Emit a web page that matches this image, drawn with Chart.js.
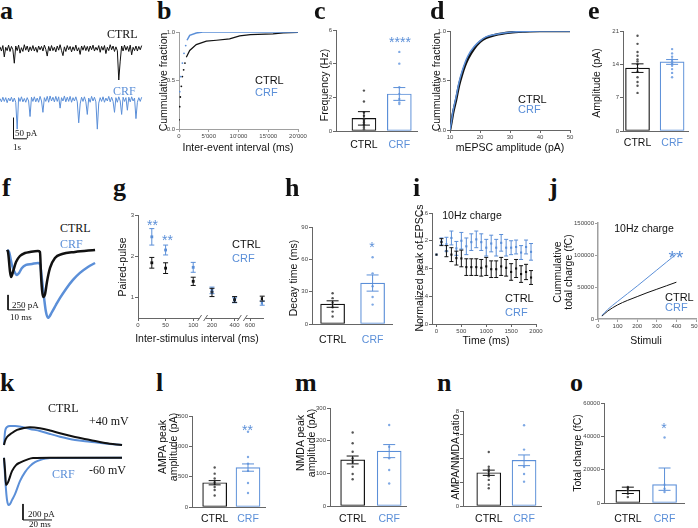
<!DOCTYPE html>
<html>
<head>
<meta charset="utf-8">
<title>CRF synaptic figure</title>
<script src="https://cdn.jsdelivr.net/npm/chart.js@4.4.1/dist/chart.umd.min.js"></script>
<style>
  html, body { margin: 0; padding: 0; overflow: hidden; background: #fff; }
  body { position: relative; width: 698px; height: 528px; }
  canvas { position: absolute; }
  .t { position: absolute; white-space: nowrap; color: #111; }
  .pl { font: bold 26px/1 "Liberation Serif", serif; }
  .sf { font: 12px/1 "Liberation Serif", serif; }
  .sb { font: 9px/1 "Liberation Serif", serif; }
  .lb { font: 11px/1 "Liberation Sans", Arial, sans-serif; }
  .ti { font: 10.5px/1 "Liberation Sans", Arial, sans-serif; }
  .st { font: 14px/1 "Liberation Sans", Arial, sans-serif; }
  .big { font-size: 19px; }
  .two { line-height: 11px; text-align: center; }
  .blue { color: #5b8fd8; }
</style>
</head>
<body>
<script>
const INK = '#111111';
const BLUE = '#5b8fd8';
const BLUE_DOT = '#7ea8e4';
const GREY_DOT = '#555555';
const AXIS = '#666666';
const AXIS_LIGHT = '#a0a0a0';
const TICK = '#444444';
const SANS = '"Liberation Sans", Arial, sans-serif';

// ---------- data ----------
const groups = ['CTRL', 'CRF'];

// a: spontaneous traces (pA), one sample every aDt seconds
const aDt = 0.106;
const aCtrl = [4,-6,7,-20,3,-5,8,-7,5,-3,
  -35,6,-5,8,-11,2,-7,9,-4,6,
  -8,4,-5,7,-6,3,-9,6,-3,5,
  -6,8,-2,-18,5,-6,7,-5,3,-8,
  6,-4,9,-5,-17,4,-7,7,-3,5,
  -8,4,-5,8,-6,2,-14,6,-4,7,
  -5,5,-7,6,-3,8,-6,3,-4,7,
  -9,5,-4,7,-12,3,-5,9,-3,6,
  -7,4,-5,-75,-30,6,-6,8,-4,5,
  -7,8,-15,3,-5,6,-6,5,-3,7];
const aCrf = [3,-5,6,-4,5,-7,4,-3,6,-5,
  4,-6,-70,5,-4,7,-5,3,-6,5,
  -3,-40,6,-4,7,-5,4,-6,8,-3,
  -30,5,-4,8,-6,9,-3,6,-5,8,
  -4,7,-20,5,-3,9,-5,6,-4,8,
  -6,5,-3,7,-5,-55,-10,6,-4,7,
  -5,-35,4,-6,8,-3,6,-5,-70,-8,
  5,-4,7,-6,4,-3,8,-5,6,-4,
  -30,5,-6,7,-3,-35,6,-4,5,-25,
  6,-5,7,-3,4,-45,-6,5,-4,6];

// b: cumulative fraction of inter-event intervals [ms, fraction]
const bCtrlDots = [[0,0.095],[110,0.23],[220,0.33],[390,0.44],[560,0.54],[780,0.61],[1000,0.68]];
const bCtrlLine = [[1230,0.74],[1800,0.81],[2900,0.87],[4600,0.905],[6300,0.915],[8500,0.93],[10200,0.96],[12000,0.972],[15800,0.98],[17500,0.99],[20000,0.995]];
const bCrfDots = [[120,0.385],[290,0.54],[570,0.68],[840,0.78],[1130,0.86]];
const bCrfLine = [[1350,0.915],[1800,0.966],[2900,0.99],[4000,1.0],[20000,1.0]];

// c: frequency (Hz)
const cMeans = [0.75, 2.2];
const cErr = [0.4, 0.38];
const cCtrlPts = [2.4, 1.75, 1.1, 0.9, 0.7, 0.6, 0.5, 0.4, 0.3, 0.2, 0.1];
const cCrfPts = [4.7, 4.0, 2.6, 2.2, 1.9, 1.7, 1.6];

// d: cumulative fraction of mEPSC amplitude
const dAmp = [10, 10.5, 11, 12, 13, 14, 15, 16, 18, 20, 22, 25, 30, 35, 40, 50];
const dCtrl = [0, 0.08, 0.17, 0.3, 0.45, 0.56, 0.65, 0.72, 0.82, 0.89, 0.93, 0.96, 0.985, 0.995, 1.0, 1.0];
const dCrf = [0, 0.09, 0.19, 0.33, 0.48, 0.59, 0.68, 0.75, 0.84, 0.9, 0.94, 0.965, 0.988, 0.996, 1.0, 1.0];

// e: amplitude (pA)
const eMeans = [13.2, 14.5];
const eErr = [0.9, 0.5];
const eCtrlPts = [20, 18.3, 16.6, 15.8, 15, 14.6, 14, 13.2, 12.5, 11.3, 10.3, 9.5, 8];
const eCrfPts = [17.2, 16.3, 15.6, 15, 14.6, 14.2, 13.7, 13, 12.2, 11.3];

// f: paired-pulse traces [ms] / [pA]
const fCtrlT = [0, 0.6, 1.8, 2.4, 3.5, 5.3, 7.6, 10.6, 13.5, 18.2, 19.4, 20.0, 20.6, 21.2, 22.4, 23.5, 25.3, 28.2, 32.4, 40.0, 51.8];
const fCtrl = [0, -33, -367, -450, -367, -200, -100, -50, -33, -17, -33, -417, -667, -783, -733, -533, -300, -133, -67, -33, 0];
const fCrfT = [0, 1.2, 2.9, 4.7, 5.9, 7.1, 8.8, 11.2, 14.7, 18.2, 19.4, 20.6, 21.8, 22.9, 24.1, 26.5, 28.8, 31.2, 34.7, 38.8, 42.9, 47.6, 51.8];
const fCrf = [0, -33, -250, -383, -417, -383, -300, -250, -233, -217, -233, -500, -800, -1033, -1133, -1033, -917, -800, -650, -500, -383, -283, -217];

// g: paired-pulse ratio vs inter-stimulus interval (ms)
const gIsi = [25, 50, 100, 200, 400, 800];
const gCtrl = [1.84, 1.71, 1.39, 1.12, 0.95, 0.97];
const gCtrlErr = [0.13, 0.13, 0.1, 0.1, 0.07, 0.06];
const gCrf = [2.47, 2.15, 1.73, 1.17, 0.93, 0.86];
const gCrfErr = [0.2, 0.12, 0.12, 0.08, 0.06, 0.05];
const gTicks = [0, 50, 100, 200, 400, 600];

// h: decay time (ms)
const hMeans = [18.5, 38];
const hErr = [3, 7.5];
const hCtrlPts = [28.5, 24, 20, 18, 15.5, 11.5, 7];
const hCrfPts = [62, 47, 35, 25, 18];

// i: normalized EPSC peak during 10 Hz train
const iTime = [0, 100, 200, 300, 400, 500, 600, 700, 800, 900, 1000, 1100, 1200, 1300, 1400, 1500, 1600, 1700, 1800, 1900];
const iCtrl = [1.0, 1.18, 1.05, 1.0, 0.95, 0.945, 0.82, 0.82, 0.82, 0.81, 0.83, 0.79, 0.79, 0.83, 0.81, 0.75, 0.80, 0.72, 0.75, 0.67];
const iCtrlErr = [0, 0.05, 0.08, 0.1, 0.1, 0.12, 0.12, 0.12, 0.12, 0.12, 0.13, 0.12, 0.12, 0.13, 0.12, 0.12, 0.13, 0.12, 0.11, 0.1];
const iCrf = [1.0, 1.19, 1.15, 1.24, 1.09, 1.20, 1.12, 1.18, 1.22, 1.18, 1.10, 1.16, 1.10, 1.17, 1.10, 1.10, 1.11, 1.03, 1.11, 1.04];
const iCrfErr = [0, 0.05, 0.1, 0.1, 0.1, 0.12, 0.12, 0.12, 0.12, 0.12, 0.12, 0.12, 0.12, 0.12, 0.12, 0.1, 0.1, 0.1, 0.1, 0.12];

// j: cumulative total charge (fC)
const jStim = [20, 50, 100, 150, 200, 250, 300, 350, 400];
const jCtrl = [4500, 12500, 22000, 29000, 35000, 41000, 46500, 52000, 57500];
const jCrf = [5500, 15000, 27500, 39500, 51500, 64000, 76500, 89000, 101500];

// k: AMPA / NMDA traces [ms] / [pA]
const kCtrl40T = [0, 0.7, 2.1, 5.5, 9.0, 13.8, 17.9, 24.8, 31.7, 38.6, 49.0, 59.3, 69.7, 81.4];
const kCtrl40 = [0, 50, 100, 150, 188, 213, 221, 209, 181, 146, 100, 63, 25, 0];
const kCrf40T = [0, 0.7, 2.1, 4.1, 7.6, 12.4, 17.9, 24.8, 31.7, 38.6, 49.0, 59.3, 69.7, 81.4];
const kCrf40 = [0, 163, 225, 238, 238, 225, 200, 175, 138, 104, 63, 41, 19, 0];
const kCtrl60T = [0, 0.7, 1.4, 2.8, 5.5, 8.3, 11.0, 15.9, 20.0, 31.7, 81.4];
const kCtrl60 = [0, -154, -341, -304, -166, -91, -60, -23, -4, 0, 0];
const kCrf60T = [0, 0.7, 1.4, 2.1, 3.1, 4.1, 5.5, 7.6, 11.0, 14.5, 17.9, 21.4, 24.8, 31.7, 81.4];
const kCrf60 = [0, -216, -404, -529, -591, -579, -529, -454, -291, -179, -104, -54, -29, -4, 0];

// l-o: AMPA, NMDA, ratio, total charge
const lMeans = [400, 650], lErr = [35, 60];
const lCtrlPts = [650, 550, 470, 410, 380, 330, 280, 190];
const lCrfPts = [1240, 825, 715, 595, 395, 230];
const mMeans = [141, 168], mErr = [12, 20];
const mCtrlPts = [225, 192, 166, 146, 135, 120, 98, 82];
const mCrfPts = [248, 181, 146, 110, 69];
const nMeans = [2.8, 3.85], nErr = [0.22, 0.45];
const nCtrlPts = [4.55, 3.3, 3.1, 2.9, 2.7, 2.5, 2.2, 1.8, 1.5];
const nCrfPts = [6.8, 4.75, 3.3, 2.7, 2.05];
const oMeans = [7600, 11000], oErr = [1900, [7600, 21000]];
const oCtrlPts = [9600, 8500, 7600, 5600, 3600];
const oCrfPts = [39300, 11000, 8600, 6600];

// ---------- helpers ----------
const errorBars = {
  id: 'errorBars',
  afterDatasetsDraw(chart) {
    const ctx = chart.ctx, ys = chart.scales.y;
    chart.data.datasets.forEach((ds, i) => {
      if (!ds.errors) return;
      chart.getDatasetMeta(i).data.forEach((el, j) => {
        const e = ds.errors[j];
        if (!e) return;
        const v = ds.data[j].y;
        const lo = Array.isArray(e) ? e[0] : v - e;
        const hi = Array.isArray(e) ? e[1] : v + e;
        const y1 = ys.getPixelForValue(lo), y2 = ys.getPixelForValue(hi);
        const w = ds.cap || 3;
        ctx.save();
        ctx.strokeStyle = Array.isArray(ds.errorColor) ? ds.errorColor[j] : ds.errorColor;
        ctx.lineWidth = ds.errorWidth || 1;
        ctx.beginPath();
        ctx.moveTo(el.x, y1); ctx.lineTo(el.x, y2);
        ctx.moveTo(el.x - w, y1); ctx.lineTo(el.x + w, y1);
        ctx.moveTo(el.x - w, y2); ctx.lineTo(el.x + w, y2);
        ctx.stroke();
        ctx.restore();
      });
    });
  }
};

function breakMarks(at) {
  return {
    id: 'breakMarks',
    afterDraw(chart) {
      const ctx = chart.ctx, xs = chart.scales.x, y = xs.top;
      ctx.save();
      at.forEach(u => {
        const x = xs.getPixelForValue(u);
        ctx.fillStyle = '#fff';
        ctx.fillRect(x - 3, y - 2, 6, 4);
        ctx.strokeStyle = AXIS;
        ctx.lineWidth = 1;
        ctx.beginPath();
        ctx.moveTo(x - 5, y + 3); ctx.lineTo(x - 1, y - 3);
        ctx.moveTo(x + 1, y + 3); ctx.lineTo(x + 5, y - 3);
        ctx.stroke();
      });
      ctx.restore();
    }
  };
}

// area = plot rectangle on the page [left, top, right, bottom]; pad = [l, t, r, b]
function chartAt(area, pad, type, datasets, scales, extraPlugins) {
  const c = document.createElement('canvas');
  const w = area[2] - area[0] + pad[0] + pad[2];
  const h = area[3] - area[1] + pad[1] + pad[3];
  c.width = w; c.height = h;
  c.style.left = (area[0] - pad[0]) + 'px';
  c.style.top = (area[1] - pad[1]) + 'px';
  c.style.width = w + 'px'; c.style.height = h + 'px';
  document.body.appendChild(c);
  scales.x.afterFit = s => { s.height = pad[3]; };
  scales.y.afterFit = s => { s.width = pad[0]; };
  return new Chart(c, {
    type: type,
    data: { datasets: datasets },
    options: {
      responsive: false,
      animation: false,
      devicePixelRatio: 1,
      layout: { padding: { left: 0, top: pad[1], right: pad[2], bottom: 0 } },
      plugins: { legend: { display: false }, tooltip: { enabled: false } },
      scales: scales
    },
    plugins: [errorBars].concat(extraPlugins || [])
  });
}

function linAxis(min, max, ticks, fmt, o) {
  o = o || {};
  const col = o.axis || AXIS;
  return {
    type: 'linear', min: min, max: max, offset: false,
    afterBuildTicks: s => { s.ticks = ticks.map(v => ({ value: v })); },
    ticks: {
      autoSkip: false, maxRotation: 0, color: o.tickColor || TICK,
      padding: o.tickPad === undefined ? 1 : o.tickPad,
      font: { family: SANS, size: o.tickSize || 6 },
      callback: (v, i) => fmt(v, i)
    },
    grid: { drawOnChartArea: false, drawTicks: o.drawTicks !== false, tickLength: 3, color: col, lineWidth: 1 },
    border: { display: true, color: col, width: o.borderWidth || 1 }
  };
}

function groupAxis(min, max, gap) {
  const a = linAxis(min, max, [1, 2], v => groups[v - 1], { tickSize: 10.5, drawTicks: false, tickPad: gap });
  a.ticks.color = c => (c.index === 0 ? INK : BLUE);
  return a;
}

const plain = v => String(v);
const oneDec = v => v.toFixed(1);

function dots(vals, gx, color) {
  return {
    type: 'line', showLine: false, order: 1,
    data: vals.map(v => ({ x: gx, y: v })),
    pointRadius: 1.2, pointBackgroundColor: color, pointBorderWidth: 0
  };
}

function barPanel(area, xr, yr, yTicks, means, errs, ctrlPts, crfPts, gap) {
  const ds = [
    {
      type: 'bar', order: 3,
      data: means.map((m, i) => ({ x: i + 1, y: m })),
      backgroundColor: '#ffffff', borderColor: [INK, BLUE], borderWidth: 1.2,
      barThickness: 24, borderSkipped: false,
      errors: errs, errorColor: [INK, BLUE], cap: 6
    },
    dots(ctrlPts, 1, GREY_DOT),
    dots(crfPts, 2, BLUE_DOT)
  ];
  return chartAt(area, [30, 6, 10, 26], 'bar', ds, {
    x: groupAxis(xr[0], xr[1], gap),
    y: linAxis(yr[0], yr[1], yTicks, plain)
  });
}

function line(points, color, width, extra) {
  return Object.assign({
    type: 'line', data: points.map(p => ({ x: p[0], y: p[1] })),
    borderColor: color, borderWidth: width, pointRadius: 0, tension: 0, fill: false
  }, extra || {});
}

function pointSet(points, color, extra) {
  return Object.assign({
    type: 'line', showLine: false, data: points.map(p => ({ x: p[0], y: p[1] })),
    pointRadius: 0.9, pointBackgroundColor: color, pointBorderWidth: 0
  }, extra || {});
}

const zip = (xs, ys) => xs.map((x, i) => [x, ys[i]]);

function scaleBar(x0, y0, dx, dy) {
  return line([[x0, y0 + dy], [x0, y0], [x0 + dx, y0]], INK, 1, { order: 0 });
}

function traceChart(area, xr, yr, datasets) {
  return chartAt(area, [0, 0, 0, 0], 'line', datasets, {
    x: { type: 'linear', display: false, min: xr[0], max: xr[1] },
    y: { type: 'linear', display: false, min: yr[0], max: yr[1] }
  });
}

// ---------- a ----------
const aCrfShift = -122;
traceChart([0, 25, 145, 155], [0, 10.74], [-253.6, 56], [
  line(aCtrl.map((v, i) => [i * aDt, v]), INK, 1, { order: 1 }),
  line(aCrf.map((v, i) => [i * aDt, v + aCrfShift]), BLUE, 1, { order: 2 }),
  scaleBar(1.0, -215, 1, 50)
]);

// ---------- b ----------
chartAt([179, 32, 298, 129], [30, 6, 14, 14], 'line', [
  line(bCrfLine, BLUE, 1.5, { order: 1 }),
  pointSet(bCrfDots, BLUE, { order: 1 }),
  line(bCtrlLine, INK, 1.2, { order: 2 }),
  pointSet(bCtrlDots, INK, { order: 2 })
], {
  x: linAxis(0, 20000, [0, 5000, 10000, 15000, 20000], v => (v === 0 ? '0' : (v / 1000) + "'000"), { axis: AXIS_LIGHT }),
  y: linAxis(0, 1, [0, 0.5, 1], oneDec, { axis: AXIS_LIGHT })
});

// ---------- c ----------
barPanel([336, 30, 417, 131], [0.21, 2.5], [0, 6], [0, 2, 4, 6], cMeans, cErr, cCtrlPts, cCrfPts, 7.5);

// ---------- d ----------
chartAt([450, 31, 570, 130], [30, 6, 14, 14], 'line', [
  line(zip(dAmp, dCrf), BLUE, 1.5, { order: 1, cubicInterpolationMode: 'monotone' }),
  line(zip(dAmp, dCtrl), INK, 2.5, { order: 2, cubicInterpolationMode: 'monotone' })
], {
  x: linAxis(10, 50, [10, 20, 30, 40, 50], plain),
  y: linAxis(0, 1, [0, 0.5, 1], oneDec)
});

// ---------- e ----------
barPanel([623, 31, 688, 131], [0.58, 2.46], [0, 21], [0, 7, 14, 21], eMeans, eErr, eCtrlPts, eCrfPts, 5.5);

// ---------- f ----------
traceChart([0, 235, 100, 325], [-4.12, 54.7], [-1252.5, 250.5], [
  line(zip(fCrfT, fCrf), BLUE, 2.5, { order: 2, cubicInterpolationMode: 'monotone' }),
  line(zip(fCtrlT, fCtrl), INK, 2.5, { order: 1, cubicInterpolationMode: 'monotone' }),
  scaleBar(0.6, -1000, 10, 250)
]);

// ---------- g ----------
// broken x axis: interval (ms) -> axis units, piecewise
const gBreaks = [[0, 0], [100, 100], [200, 134], [400, 175], [600, 203], [800, 225]];
function gx(v) {
  for (let k = 1; k < gBreaks.length; k++) {
    const a = gBreaks[k - 1], b = gBreaks[k];
    if (v <= b[0]) return a[1] + (v - a[0]) * (b[1] - a[1]) / (b[0] - a[0]);
  }
  return gBreaks[gBreaks.length - 1][1];
}
chartAt([138, 215, 263, 318], [30, 6, 14, 14], 'line', [
  {
    type: 'line', showLine: false, order: 2,
    data: gIsi.map((v, k) => ({ x: gx(v), y: gCrf[k] })),
    pointStyle: 'rect', pointRadius: 2, pointBackgroundColor: BLUE, pointBorderWidth: 0,
    errors: gCrfErr, errorColor: BLUE, cap: 2.5
  },
  {
    type: 'line', showLine: false, order: 1,
    data: gIsi.map((v, k) => ({ x: gx(v), y: gCtrl[k] })),
    pointStyle: 'rect', pointRadius: 2, pointBackgroundColor: INK, pointBorderWidth: 0,
    errors: gCtrlErr, errorColor: INK, cap: 2.5
  }
], {
  x: linAxis(0, 226.4, gTicks.map(gx), (v, i) => String(gTicks[i])),
  y: linAxis(0.5, 3, [1, 2, 3], plain)
}, [breakMarks([(gx(100) + gx(200)) / 2, (gx(400) + gx(600)) / 2])]);

// ---------- h ----------
barPanel([312, 227, 392, 324], [0.485, 2.485], [0, 90], [0, 30, 60, 90], hMeans, hErr, hCtrlPts, hCrfPts, 10);

// ---------- i ----------
chartAt([432, 213, 536, 324], [30, 6, 14, 14], 'line', [
  {
    type: 'line', showLine: false, order: 2,
    data: iTime.map((t, k) => ({ x: t, y: iCrf[k] })),
    pointStyle: 'rect', pointRadius: 1.5, pointBackgroundColor: BLUE, pointBorderWidth: 0,
    errors: iCrfErr, errorColor: BLUE, cap: 2
  },
  {
    type: 'line', showLine: false, order: 1,
    data: iTime.map((t, k) => ({ x: t, y: iCtrl[k] })),
    pointStyle: 'rect', pointRadius: 1.5, pointBackgroundColor: INK, pointBorderWidth: 0,
    errors: iCtrlErr, errorColor: INK, cap: 2
  }
], {
  x: linAxis(-90, 2000, [0, 500, 1000, 1500, 2000], plain),
  y: linAxis(0, 1.6, [0, 0.4, 0.8, 1.2, 1.6], oneDec)
});

// ---------- j ----------
chartAt([598, 223, 696, 319], [30, 6, 14, 14], 'line', [
  line(zip(jStim, jCrf), BLUE, 1, { cubicInterpolationMode: 'monotone' }),
  line(zip(jStim, jCtrl), INK, 1, { cubicInterpolationMode: 'monotone' })
], {
  x: linAxis(0, 500, [0, 100, 200, 300, 400, 500], plain, { axis: AXIS_LIGHT, borderWidth: 1.5 }),
  y: linAxis(0, 150000, [0, 50000, 100000, 150000], plain, { axis: AXIS_LIGHT, borderWidth: 1.5 })
});

// ---------- k ----------
const kShift60 = -160;
traceChart([0, 400, 130, 528], [-2.76, 86.9], [-1037.5, 562.5], [
  line(zip(kCrf40T, kCrf40), BLUE, 2, { order: 2, cubicInterpolationMode: 'monotone' }),
  line(zip(kCrf60T, kCrf60.map(v => v + kShift60)), BLUE, 2, { order: 2, cubicInterpolationMode: 'monotone' }),
  line(zip(kCtrl40T, kCtrl40), INK, 2, { order: 1, cubicInterpolationMode: 'monotone' }),
  line(zip(kCtrl60T, kCtrl60.map(v => v + kShift60)), INK, 2, { order: 1, cubicInterpolationMode: 'monotone' }),
  scaleBar(13.1, -937, 20, 200)
]);

// ---------- l, m, n, o ----------
barPanel([192, 416, 265, 507], [0.32, 2.51], [0, 1500], [0, 500, 1000, 1500], lMeans, lErr, lCtrlPts, lCrfPts, 6);
barPanel([330, 408, 406, 506], [0.38, 2.46], [0, 300], [0, 100, 200, 300], mMeans, mErr, mCtrlPts, mCrfPts, 7);
barPanel([463, 411, 541, 506], [0.27, 2.48], [0, 8], [0, 2, 4, 6, 8], nMeans, nErr, nCtrlPts, nCrfPts, 6.5);
barPanel([604, 403, 684, 503], [0.35, 2.53], [0, 60000], [0, 20000, 40000, 60000], oMeans, oErr, oCtrlPts, oCrfPts, 10);

// ---------- text ----------
function put(html, x, y, cls, anchor, rot) {
  const d = document.createElement('div');
  d.className = 't ' + cls;
  d.innerHTML = html;
  d.style.left = x + 'px';
  d.style.top = y + 'px';
  let tf = anchor === 'l' ? 'translate(0,-50%)' : 'translate(-50%,-50%)';
  if (rot) tf += ' rotate(-90deg)';
  d.style.transform = tf;
  document.body.appendChild(d);
}

// panel letters
[['a', 0, 11], ['b', 157, 11], ['c', 314, 11], ['d', 430, 11], ['e', 588, 11],
 ['f', 2, 188], ['g', 113, 188], ['h', 285, 188], ['i', 413, 188], ['j', 549, 188],
 ['k', 0, 383], ['l', 156, 383], ['m', 295, 383], ['n', 437, 383], ['o', 570, 383]]
  .forEach(p => put(p[0], p[1], p[2], 'pl', 'l'));

// a
put('CTRL', 107, 34, 'sf', 'l');
put('CRF', 113, 91, 'sf blue', 'l');
put('50 pA', 15, 133, 'sb', 'l');
put('1s', 13, 147, 'sb', 'l');
// b
put('Cummulative fraction', 163, 82, 'ti', 'c', true);
put('Inter-event interval (ms)', 238, 147, 'ti', 'c');
put('CTRL', 255, 80, 'lb', 'l');
put('CRF', 255, 92, 'lb blue', 'l');
// c
put('Frequency (Hz)', 323.5, 85, 'ti', 'c', true);
put('****', 400, 42, 'st blue', 'c');
// d
put('Cummulative fraction', 436, 82, 'ti', 'c', true);
put('mEPSC amplitude (pA)', 510, 147, 'ti', 'c');
put('CTRL', 518, 98.5, 'lb', 'l');
put('CRF', 518, 109, 'lb blue', 'l');
// e
put('Amplitude (pA)', 596, 83, 'ti', 'c', true);
// f
put('CTRL', 60, 228, 'sf', 'l');
put('CRF', 60, 244, 'sf blue', 'l');
put('250 pA', 12, 305, 'sb', 'l');
put('10 ms', 10, 317, 'sb', 'l');
// g
put('Paired-pulse', 122, 267, 'ti', 'c', true);
put('Inter-stimulus interval (ms)', 197, 337.5, 'ti', 'c');
put('CTRL', 232, 244, 'lb', 'l');
put('CRF', 232, 258, 'lb blue', 'l');
put('**', 152.5, 225, 'st blue', 'c');
put('**', 167.5, 240, 'st blue', 'c');
// h
put('Decay time (ms)', 292.5, 278, 'ti', 'c', true);
put('*', 372, 247, 'st blue', 'c');
// i
put('Normalized peak of EPSCs', 419, 268, 'ti', 'c', true);
put('Time (ms)', 486, 340, 'ti', 'c');
put('10Hz charge', 472, 215, 'ti', 'c');
put('CTRL', 505, 298, 'lb', 'l');
put('CRF', 505, 312, 'lb blue', 'l');
// j
put('Cummulative<br>total charge (fC)', 563, 272, 'ti two', 'c', true);
put('Stimuli', 646, 340, 'ti', 'c');
put('10Hz charge', 644, 228, 'ti', 'c');
put('**', 676, 257, 'st big blue', 'c');
put('CTRL', 665, 297, 'lb', 'l');
put('CRF', 665, 307, 'lb blue', 'l');
// k
put('CTRL', 48, 408, 'sf', 'l');
put('+40 mV', 89, 421, 'sf', 'l');
put('CRF', 52, 474, 'sf blue', 'l');
put('-60 mV', 89, 470, 'sf', 'l');
put('200 pA', 28, 514, 'sb', 'l');
put('20 ms', 29, 524, 'sb', 'l');
// l
put('AMPA peak<br>amplitude (pA)', 168, 447, 'ti two', 'c', true);
put('**', 247.5, 430, 'st blue', 'c');
// m
put('NMDA peak<br>amplitude (pA)', 305.5, 443, 'ti two', 'c', true);
// n
put('AMPA/NMDA ratio', 455, 457, 'ti', 'c', true);
// o
put('Total charge (fC)', 577, 453, 'ti', 'c', true);
put('*', 664, 428, 'st blue', 'c');
</script>
</body>
</html>
